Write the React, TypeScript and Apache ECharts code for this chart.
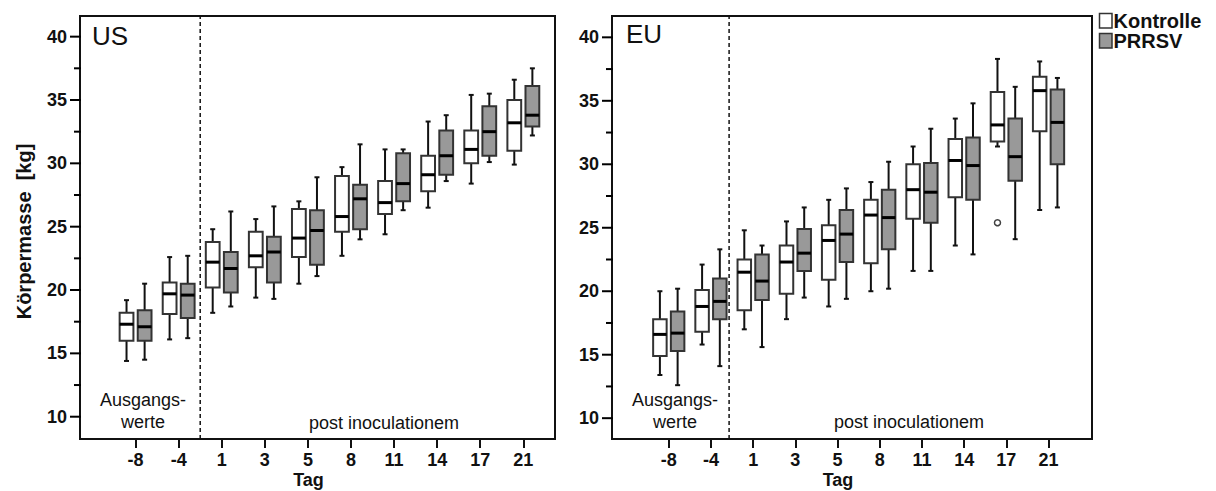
import React, { useEffect, useRef } from "react";
import * as echarts from "echarts";

// Sampling days (Tag) relative to inoculation
const days = ["-8", "-4", "1", "3", "5", "8", "11", "14", "17", "21"];

// Box statistics per day: [min, Q1, median, Q3, max] body mass in kg
const usKontrolle = [
  [14.4, 16.0, 17.3, 18.2, 19.2],
  [16.1, 18.1, 19.7, 20.6, 22.6],
  [18.2, 20.2, 22.2, 23.8, 24.8],
  [19.4, 21.8, 22.7, 24.6, 25.6],
  [20.5, 22.6, 24.1, 26.4, 27.0],
  [22.7, 24.6, 25.8, 29.0, 29.7],
  [24.4, 26.0, 26.9, 28.6, 31.1],
  [26.5, 27.8, 29.1, 30.6, 33.3],
  [28.4, 30.0, 31.1, 32.6, 35.4],
  [29.9, 31.0, 33.2, 35.0, 36.6],
];
const usPrrsv = [
  [14.5, 16.0, 17.1, 18.4, 20.5],
  [16.2, 17.8, 19.6, 20.5, 22.7],
  [18.7, 19.8, 21.7, 23.0, 26.2],
  [19.3, 20.6, 23.0, 24.2, 26.6],
  [21.1, 22.0, 24.7, 26.3, 28.9],
  [24.0, 24.8, 27.2, 28.3, 31.5],
  [26.3, 27.0, 28.4, 30.8, 31.1],
  [28.6, 29.1, 30.6, 32.6, 33.8],
  [30.1, 30.6, 32.5, 34.5, 35.5],
  [32.2, 32.9, 33.8, 36.1, 37.5],
];
const euKontrolle = [
  [13.4, 14.9, 16.6, 17.8, 20.0],
  [15.8, 16.8, 18.8, 20.1, 22.1],
  [17.0, 18.5, 21.5, 22.5, 24.8],
  [17.8, 19.8, 22.3, 23.6, 25.5],
  [18.8, 20.9, 24.0, 25.2, 27.2],
  [20.0, 22.2, 26.0, 27.2, 28.6],
  [21.6, 25.7, 28.0, 30.0, 31.4],
  [23.6, 27.4, 30.3, 32.0, 33.6],
  [31.4, 31.8, 33.1, 35.7, 38.3],
  [26.4, 32.6, 35.8, 36.9, 38.1],
];
const euPrrsv = [
  [12.6, 15.3, 16.7, 18.4, 20.2],
  [14.1, 17.8, 19.2, 21.0, 23.3],
  [15.6, 19.3, 20.8, 22.9, 23.6],
  [19.5, 21.6, 23.0, 24.9, 26.6],
  [19.4, 22.3, 24.5, 26.4, 28.1],
  [20.2, 23.3, 25.8, 28.0, 30.2],
  [21.6, 25.4, 27.8, 30.1, 32.8],
  [22.9, 27.2, 29.9, 32.1, 34.8],
  [24.1, 28.7, 30.6, 33.6, 36.1],
  [26.6, 30.0, 33.3, 35.9, 36.8],
];
// Outliers: [day index, kg]
const euKontrolleOutliers = [[8, 25.4]];

const majorTicks = [10, 15, 20, 25, 30, 35, 40];
const minorTicks = [12.5, 17.5, 22.5, 27.5, 32.5, 37.5];
const dayIdx = days.map((_, i) => i);

const FONT = '"Liberation Sans", Arial, Helvetica, sans-serif';
const INK = "#111";
const GRAY = "#999999";
const BOX_W = 0.32;
const SHIFT = 0.21;

const panels = [
  { left: 80, width: 475, xMin: -1.29, xMax: 9.735, yMin: 8.24, yMax: 41.63, divider: 1.5 },
  { left: 612, width: 480, xMin: -1.345, xMax: 10.03, yMin: 8.36, yMax: 41.68, divider: 1.43 },
];

function boxRenderer(fill: string) {
  return (params: any, api: any) => {
    const x = api.value(0);
    const p = [1, 2, 3, 4, 5].map((k) => api.coord([x, api.value(k)]));
    const cx = p[0][0];
    const half = api.size([BOX_W, 0])[0] / 2;
    const cap = 2.5;
    const whisker = { stroke: INK, lineWidth: 2 };
    return {
      type: "group",
      children: [
        { type: "line", shape: { x1: cx, y1: p[1][1], x2: cx, y2: p[0][1] }, style: whisker },
        { type: "line", shape: { x1: cx, y1: p[3][1], x2: cx, y2: p[4][1] }, style: whisker },
        { type: "line", shape: { x1: cx - cap, y1: p[0][1], x2: cx + cap, y2: p[0][1] }, style: whisker },
        { type: "line", shape: { x1: cx - cap, y1: p[4][1], x2: cx + cap, y2: p[4][1] }, style: whisker },
        {
          type: "rect",
          shape: { x: cx - half, y: p[3][1], width: 2 * half, height: p[1][1] - p[3][1] },
          style: { fill, stroke: "#333", lineWidth: 2 },
        },
        {
          type: "line",
          shape: { x1: cx - half, y1: p[2][1], x2: cx + half, y2: p[2][1] },
          style: { stroke: "#000", lineWidth: 3 },
        },
      ],
    };
  };
}

function boxSeries(stats: number[][], shift: number, fill: string, panel: number) {
  return {
    type: "custom",
    xAxisIndex: panel,
    yAxisIndex: panel,
    renderItem: boxRenderer(fill),
    encode: { x: 0, y: [1, 2, 3, 4, 5] },
    data: stats.map((s, i) => [i + shift, ...s]),
    z: 3,
  };
}

// Y-axis tick marks, drawn outward from the left frame edge
function yTickSeries(panel: number, values: number[], length: number) {
  const xMin = panels[panel].xMin;
  return {
    type: "custom",
    xAxisIndex: panel,
    yAxisIndex: panel,
    clip: false,
    silent: true,
    encode: { x: 0, y: 1 },
    data: values.map((v) => [xMin, v]),
    renderItem: (params: any, api: any) => {
      const c = api.coord([api.value(0), api.value(1)]);
      return {
        type: "line",
        shape: { x1: c[0] - length, y1: c[1], x2: c[0] + 1, y2: c[1] },
        style: { stroke: "#000", lineWidth: 2 },
      };
    },
    z: 20,
  };
}

// Y-axis tick labels, right-aligned left of the tick marks
function yLabelSeries(panel: number, values: number[]) {
  const xMin = panels[panel].xMin;
  return {
    type: "custom",
    xAxisIndex: panel,
    yAxisIndex: panel,
    clip: false,
    silent: true,
    encode: { x: 0, y: 1 },
    data: values.map((v) => [xMin, v]),
    renderItem: (params: any, api: any) => {
      const v = api.value(1);
      const c = api.coord([api.value(0), v]);
      return {
        type: "text",
        x: c[0] - 13,
        y: c[1],
        style: {
          text: String(v),
          fill: INK,
          fontFamily: FONT,
          fontSize: 18,
          fontWeight: "bold",
          align: "right",
          verticalAlign: "middle",
        },
      };
    },
    z: 6,
  };
}

function text(x: number, y: number, t: string, size: number, opts: any = {}) {
  return {
    type: "text",
    x,
    y,
    rotation: opts.rotation || 0,
    style: {
      text: t,
      fill: INK,
      fontFamily: FONT,
      fontSize: size,
      fontWeight: opts.bold ? "bold" : "normal",
      align: opts.align || "center",
      verticalAlign: "middle",
    },
    z: 10,
  };
}

export default function App() {
  const ref = useRef<HTMLDivElement>(null);

  useEffect(() => {
    if (!ref.current) return;
    const chart = echarts.init(ref.current, null, { renderer: "svg" });

    const grids = panels.map((p) => ({
      left: p.left,
      top: 16,
      width: p.width,
      height: 423,
      show: true,
      borderColor: INK,
      borderWidth: 2,
      backgroundColor: "transparent",
    }));

    const xAxes = panels.map((p, i) => ({
      type: "value",
      gridIndex: i,
      min: p.xMin,
      max: p.xMax,
      splitLine: { show: false },
      axisLine: { show: false, onZero: false },
      axisTick: { show: true, customValues: dayIdx, length: 9, lineStyle: { color: INK, width: 2 } },
      axisLabel: {
        customValues: dayIdx,
        formatter: (v: number) => days[Math.round(v)],
        fontSize: 18,
        fontWeight: "bold",
        fontFamily: FONT,
        color: INK,
        margin: 12,
      },
    }));

    const yAxes = panels.map((p, i) => ({
      type: "value",
      gridIndex: i,
      position: "left",
      min: p.yMin,
      max: p.yMax,
      splitLine: { show: false },
      axisLine: { show: false, onZero: false },
      axisTick: { show: false },
      axisLabel: { show: false },
    }));

    const dividers = panels.map((p, i) => ({
      type: "line",
      xAxisIndex: i,
      yAxisIndex: i,
      data: [
        [p.divider, p.yMin],
        [p.divider, p.yMax],
      ],
      symbol: "none",
      silent: true,
      lineStyle: { color: INK, width: 1.5, type: [4, 3] },
      z: 2,
    }));

    chart.setOption({
      animation: false,
      backgroundColor: "#fff",
      grid: grids,
      xAxis: xAxes,
      yAxis: yAxes,
      series: [
        ...dividers,
        yLabelSeries(0, majorTicks),
        yLabelSeries(1, majorTicks),
        yTickSeries(0, majorTicks, 10),
        yTickSeries(0, minorTicks, 6),
        yTickSeries(1, majorTicks, 10),
        yTickSeries(1, minorTicks, 6),
        boxSeries(usKontrolle, -SHIFT, "#fff", 0),
        boxSeries(usPrrsv, SHIFT, GRAY, 0),
        boxSeries(euKontrolle, -SHIFT, "#fff", 1),
        boxSeries(euPrrsv, SHIFT, GRAY, 1),
        {
          type: "scatter",
          xAxisIndex: 1,
          yAxisIndex: 1,
          data: euKontrolleOutliers.map(([d, v]) => [d - SHIFT, v]),
          symbol: "circle",
          symbolSize: 6,
          itemStyle: { color: "#fff", borderColor: INK, borderWidth: 1.5 },
          z: 4,
        },
      ],
      graphic: [
        text(92, 36, "US", 26, { align: "left" }),
        text(626, 34, "EU", 26, { align: "left" }),
        text(143, 400, "Ausgangs-", 18),
        text(143, 422, "werte", 18),
        text(675, 400, "Ausgangs-", 18),
        text(675, 422, "werte", 18),
        text(384, 422.5, "post inoculationem", 18),
        text(909, 422, "post inoculationem", 18),
        text(308.5, 480, "Tag", 18, { bold: true }),
        text(838, 480, "Tag", 18, { bold: true }),
        text(24, 231.5, "Körpermasse  [kg]", 20, { bold: true, rotation: Math.PI / 2 }),
        {
          type: "rect",
          shape: { x: 1099.5, y: 13.5, width: 12.5, height: 14.5 },
          style: { fill: "#fff", stroke: "#333", lineWidth: 1.5 },
        },
        {
          type: "rect",
          shape: { x: 1099.5, y: 33.5, width: 12.5, height: 14.5 },
          style: { fill: GRAY, stroke: "#333", lineWidth: 1.5 },
        },
        text(1113.5, 21, "Kontrolle", 20, { bold: true, align: "left" }),
        text(1113.5, 41, "PRRSV", 20, { bold: true, align: "left" }),
      ],
    });

    return () => chart.dispose();
  }, []);

  return (
    <div
      ref={ref}
      style={{ position: "absolute", left: 0, top: 0, width: 1216, height: 491, background: "#fff" }}
    />
  );
}
